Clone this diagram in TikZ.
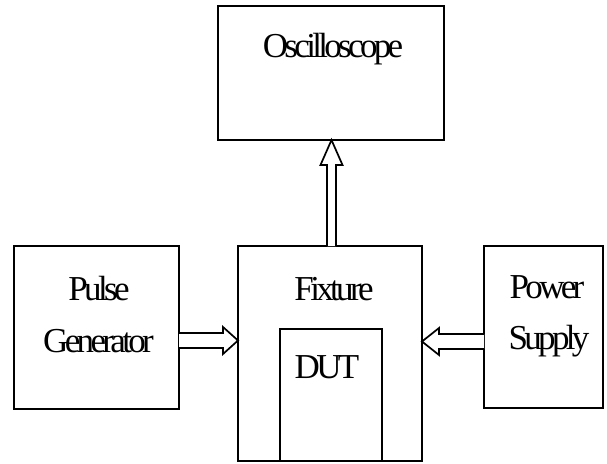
\documentclass[tikz,border=0pt]{standalone}
\usepackage{fontspec}
\setmainfont{Liberation Serif}[LetterSpace=-10.5]
\usetikzlibrary{calc}
\begin{document}
\begin{tikzpicture}[x=1pt,y=-1pt,
  box/.style={draw,line width=1.7pt,rectangle,inner sep=0pt,outer sep=0pt},
  lbl/.style={anchor=base,inner sep=0pt,font=\fontsize{35}{35}\selectfont},
  conn/.style={draw,line width=1.7pt,fill=white,line join=miter}]
\useasboundingbox (0,0) rectangle (607,463);
\node[box,minimum width=226pt,minimum height=134pt] (osc) at (331,73) {};
\node[box,minimum width=184pt,minimum height=215pt] (fix) at (330,353.5) {};
\node[box,minimum width=102pt,minimum height=132pt] (dut) at (331,395) {};
\node[box,minimum width=165pt,minimum height=163pt] (pg) at (96.5,327.5) {};
\node[box,minimum width=119pt,minimum height=162pt] (ps) at (543.5,327) {};
\node[lbl] (tosc) at (333,57) {Oscilloscope};
\node[lbl] (tfix) at (334,300) {Fixture};
\node[lbl] (tdut) at (327,378) {DUT};
\node[lbl] (tpg1) at (99,300) {Pulse};
\node[lbl] (tpg2) at (98.5,352) {Generator};
\node[lbl] (tps1) at (547,298) {Power};
\node[lbl] (tps2) at (549,349) {Supply};
% up arrow fixture -> oscilloscope
\coordinate (ub) at ($(fix.north)+(1.5,0)$);
\coordinate (ut) at (ub |- osc.south);
\path[conn] ($(ub)+(-4.5,0)$) -- ($(ut)+(-4.5,25)$) -- ($(ut)+(-11,25)$) -- (ut)
  -- ($(ut)+(11,25)$) -- ($(ut)+(4.5,25)$) -- ($(ub)+(4.5,0)$);
% left arrow pulse generator -> fixture
\coordinate (la) at ($(pg.east |- 0,340.5)$);
\coordinate (lt) at (la -| fix.west);
\path[conn] ($(la)+(0,-7.5)$) -- ($(lt)+(-15,-7.5)$) -- ($(lt)+(-15,-13.5)$) -- (lt)
  -- ($(lt)+(-15,13.5)$) -- ($(lt)+(-15,7.5)$) -- ($(la)+(0,7.5)$);
% right arrow power supply -> fixture
\coordinate (ra) at ($(ps.west |- 0,341.5)$);
\coordinate (rt) at (ra -| fix.east);
\path[conn] ($(ra)+(0,-7.5)$) -- ($(rt)+(17,-7.5)$) -- ($(rt)+(17,-13.5)$) -- (rt)
  -- ($(rt)+(17,13.5)$) -- ($(rt)+(17,7.5)$) -- ($(ra)+(0,7.5)$);
\end{tikzpicture}
\end{document}
